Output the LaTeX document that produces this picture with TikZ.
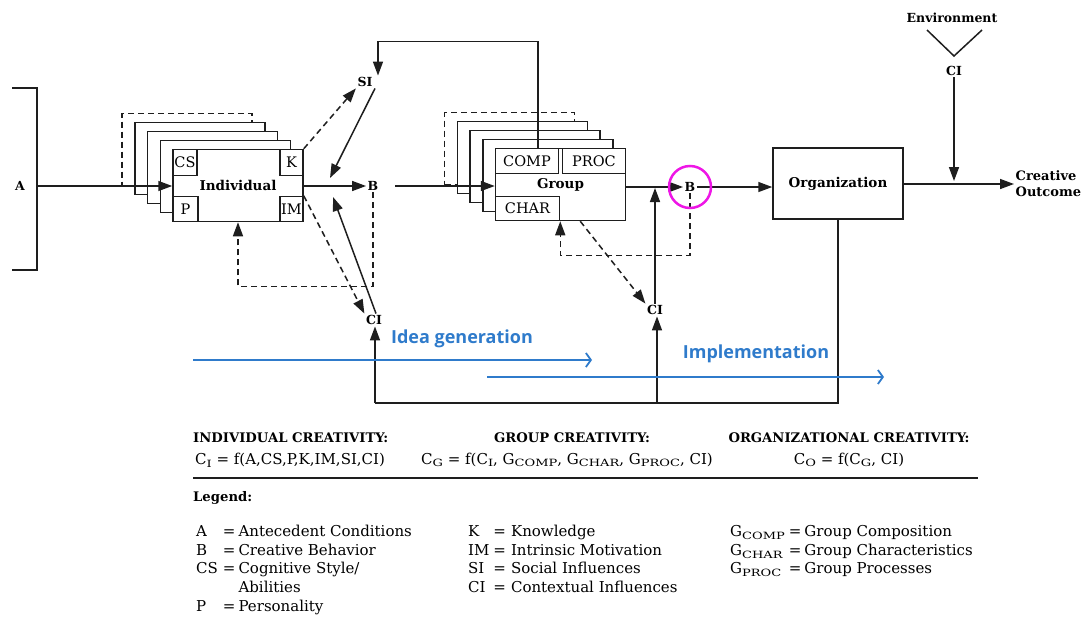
\documentclass[tikz,border=0pt]{standalone}
\usepackage{fontspec}
\setmainfont{DejaVu Serif}
\newfontfamily\phasefont{Open Sans}
\usetikzlibrary{arrows.meta}
\definecolor{ink}{HTML}{1E1E1E}
\definecolor{phaseblue}{HTML}{2F7BCB}
\definecolor{markpink}{HTML}{EE16E6}
\newcommand{\sub}[1]{\raisebox{-0.35ex}{\scalebox{1.3}[1]{\fontsize{10}{10}\selectfont #1}}}
\tikzstyle{box}=[draw=ink, line width=1.5, fill=white, inner sep=0, minimum width=130, minimum height=72, font=\bfseries\fontsize{13.5}{15}\selectfont]
\tikzstyle{subbox}=[draw=ink, line width=1.5, fill=white, inner sep=0, font=\fontsize{14.5}{16}\selectfont]
\tikzstyle{lbl}=[inner sep=1.5, font=\bfseries\fontsize{12.5}{14}\selectfont]
\tikzstyle{wire}=[ink, line width=1.5]
\tikzstyle{link}=[wire, -{Triangle[length=14,width=10]}]
\tikzstyle{dlink}=[link, dash pattern=on 6 off 4]
\tikzstyle{phase}=[phaseblue, line width=1.8, -{Straight Barb[length=5,width=14]}]
\tikzstyle{phasetext}=[phaseblue, font=\phasefont\bfseries\fontsize{18}{20}\selectfont]
\tikzstyle{head}=[inner sep=0, font=\bfseries\fontsize{13.2}{15}\selectfont]
\tikzstyle{formula}=[inner sep=0, font=\fontsize{15}{17}\selectfont]
\tikzstyle{legend}=[inner sep=0, anchor=north west, font=\fontsize{15}{18.6}\selectfont]

\begin{document}
\begin{tikzpicture}[x=1pt, y=-1pt]
  \useasboundingbox (0,0) rectangle (1086,618);

  % INDIVIDUAL
  \foreach \k [evaluate={\x=238-12.75*\k; \y=185.5-9*\k;}] in {4,...,1}{  % stacked copies behind
    \ifnum\k=4
      \node[box, dash pattern=on 6 off 4] (indiv-\k) at (\x,\y) {};
    \else
      \node[box] (indiv-\k) at (\x,\y) {};
    \fi
  }
  \node[box] (indiv) at (238,185.5) {Individual};
  \node[subbox, anchor=north west, minimum width=24, minimum height=26] (cs) at (indiv.north west) {CS};
  \node[subbox, anchor=north east, minimum width=23, minimum height=26] (kbox) at (indiv.north east) {K};
  \node[subbox, anchor=south west, minimum width=25, minimum height=25] (pbox) at (indiv.south west) {P};
  \node[subbox, anchor=south east, minimum width=23, minimum height=25] (imbox) at (indiv.south east) {IM};

  % GROUP
  \foreach \k [evaluate={\x=560.5-12.75*\k; \y=184.5-9*\k;}] in {4,...,1}{  % stacked copies behind
    \ifnum\k=4
      \node[box, dash pattern=on 6 off 4] (group-\k) at (\x,\y) {};
    \else
      \node[box] (group-\k) at (\x,\y) {};
    \fi
  }
  \node[box] (group) at (560.5,184.5) {Group};
  \node[subbox, anchor=north west, minimum width=63, minimum height=25] (comp) at (group.north west) {COMP};
  \node[subbox, anchor=north east, minimum width=63, minimum height=25] (proc) at (group.north east) {PROC};
  \node[subbox, anchor=south west, minimum width=64, minimum height=24] (char) at (group.south west) {CHAR};

  % ORGANIZATION
  \node[box, minimum height=71] (org) at (838,183.5) {Organization};

  % LABELS
  \node[lbl] (a) at (20,186) {A};
  \node[lbl] (b1) at (373,186) {B};
  \node[lbl] (si) at (365,82) {SI};
  \node[lbl] (ci1) at (374,320) {CI};
  \node[lbl] (b2) at (690,187) {B};
  \node[lbl] (ci2) at (655,310) {CI};
  \node[lbl] (env) at (952,18) {Environment};
  \node[lbl] (ci3) at (954,71) {CI};
  \node[lbl, anchor=west, align=left, font=\bfseries\fontsize{13}{16}\selectfont] (outc) at (1014,184) {Creative\\Outcome};

  \coordinate (a-out) at (37,186);
  \coordinate (b1-out) at (395,186);
  \coordinate (b1-si) at (330,178);
  \coordinate (b1-ci) at (333,197);
  \coordinate (b2-ci) at (655,188);
  \coordinate (out-ci) at (954,181);
  \coordinate (loop-l) at (375,403);
  \coordinate (loop-m) at (657,403);

  % CONNECTIONS
  \draw[wire] (12,88) -- (37,88) -- (37,270) -- (12,270);
  \draw[link] (a-out) -- (a-out -| indiv.west);
  \draw[link] (indiv.east |- b1.west) -- (b1.west);
  \draw[link] (b1-out) -- (b1-out -| group.west);
  \draw[dlink] (kbox.north east) -- (si.south west);
  \draw[link] ([xshift=10]si.south) -- (b1-si);
  \draw[link] ([xshift=2]ci1.north) -- (b1-ci);
  \draw[dlink] (imbox.north east) -- (ci1.north west);
  \draw[dlink] (b1.south) -- ++(0,94) -| (indiv.south);
  \draw[link] ([xshift=11]comp.north) -- ++(0,-106) -| ([xshift=13]si.north);

  \draw[link] (group.east |- b2.west) -- (b2.west);
  \draw[link] (ci2.north) -- (b2-ci);
  \draw[dlink] ([xshift=20]char.south east) -- (ci2.north west);
  \draw[dlink] (b2.south) -- ++(0,62) -| (char.south east);
  \draw[link] (b2.east) -- (b2.east -| org.west);
  \draw[link] (org.east |- outc.west) -- (outc.west);
  \draw[wire] (927,30) -- (954,56) -- (982,30);
  \draw[link] (ci3.south) -- (out-ci);

  \draw[wire] (org.south) |- (loop-l);
  \draw[link] (loop-l) -- (loop-l |- ci1.south);
  \draw[link] (loop-m) -- (loop-m |- ci2.south);

  \draw[markpink, line width=2.5] (b2.center) circle (21);

  % PHASES
  \coordinate (idea-s) at (193,360);
  \coordinate (idea-e) at (592,360);
  \coordinate (impl-s) at (487,377);
  \coordinate (impl-e) at (884,377);
  \draw[phase] (idea-s) -- (idea-e);
  \draw[phase] (impl-s) -- (impl-e);
  \node[phasetext] (idea) at (462,339) {Idea generation};
  \node[phasetext] (impl) at (756,354) {Implementation};

  % FORMULAS
  \node[head, anchor=west] (h-ind) at (193,438) {INDIVIDUAL CREATIVITY:};
  \node[head] (h-grp) at (572,438) {GROUP CREATIVITY:};
  \node[head] (h-org) at (849,438) {ORGANIZATIONAL CREATIVITY:};
  \node[formula, anchor=west] (f-ind) at (195,460) {C\sub{I} = f(A,CS,P,K,IM,SI,CI)};
  \node[formula] (f-grp) at (567,460) {C\sub{G} = f(C\sub{I}, G\sub{COMP}, G\sub{CHAR}, G\sub{PROC}, CI)};
  \node[formula] (f-org) at (849,460) {C\sub{O} = f(C\sub{G}, CI)};
  \draw[ink, line width=2] (193,478) -- (978,478);

  % LEGEND
  \node[head, anchor=west] (leg) at (193,498) {Legend:};
  \node[legend] (leg-1) at (196,523.5) {\begin{tabular}{@{}l@{\hspace{5pt}}l@{\hspace{3pt}}l@{}}
      A  & = & Antecedent Conditions \\
      B  & = & Creative Behavior \\
      CS & = & Cognitive Style/ \\
         &   & Abilities \\
      P  & = & Personality
    \end{tabular}};
  \node[legend] (leg-2) at (468,523.5) {\begin{tabular}{@{}l@{\hspace{4pt}}l@{\hspace{5pt}}l@{}}
      K  & = & Knowledge \\
      IM & = & Intrinsic Motivation \\
      SI & = & Social Influences \\
      CI & = & Contextual Influences
    \end{tabular}};
  \node[legend] (leg-3) at (730,523.5) {\begin{tabular}{@{}l@{\hspace{4pt}}l@{\hspace{3pt}}l@{}}
      G\sub{COMP} & = & Group Composition \\
      G\sub{CHAR} & = & Group Characteristics \\
      G\sub{PROC} & = & Group Processes
    \end{tabular}};
\end{tikzpicture}
\end{document}
